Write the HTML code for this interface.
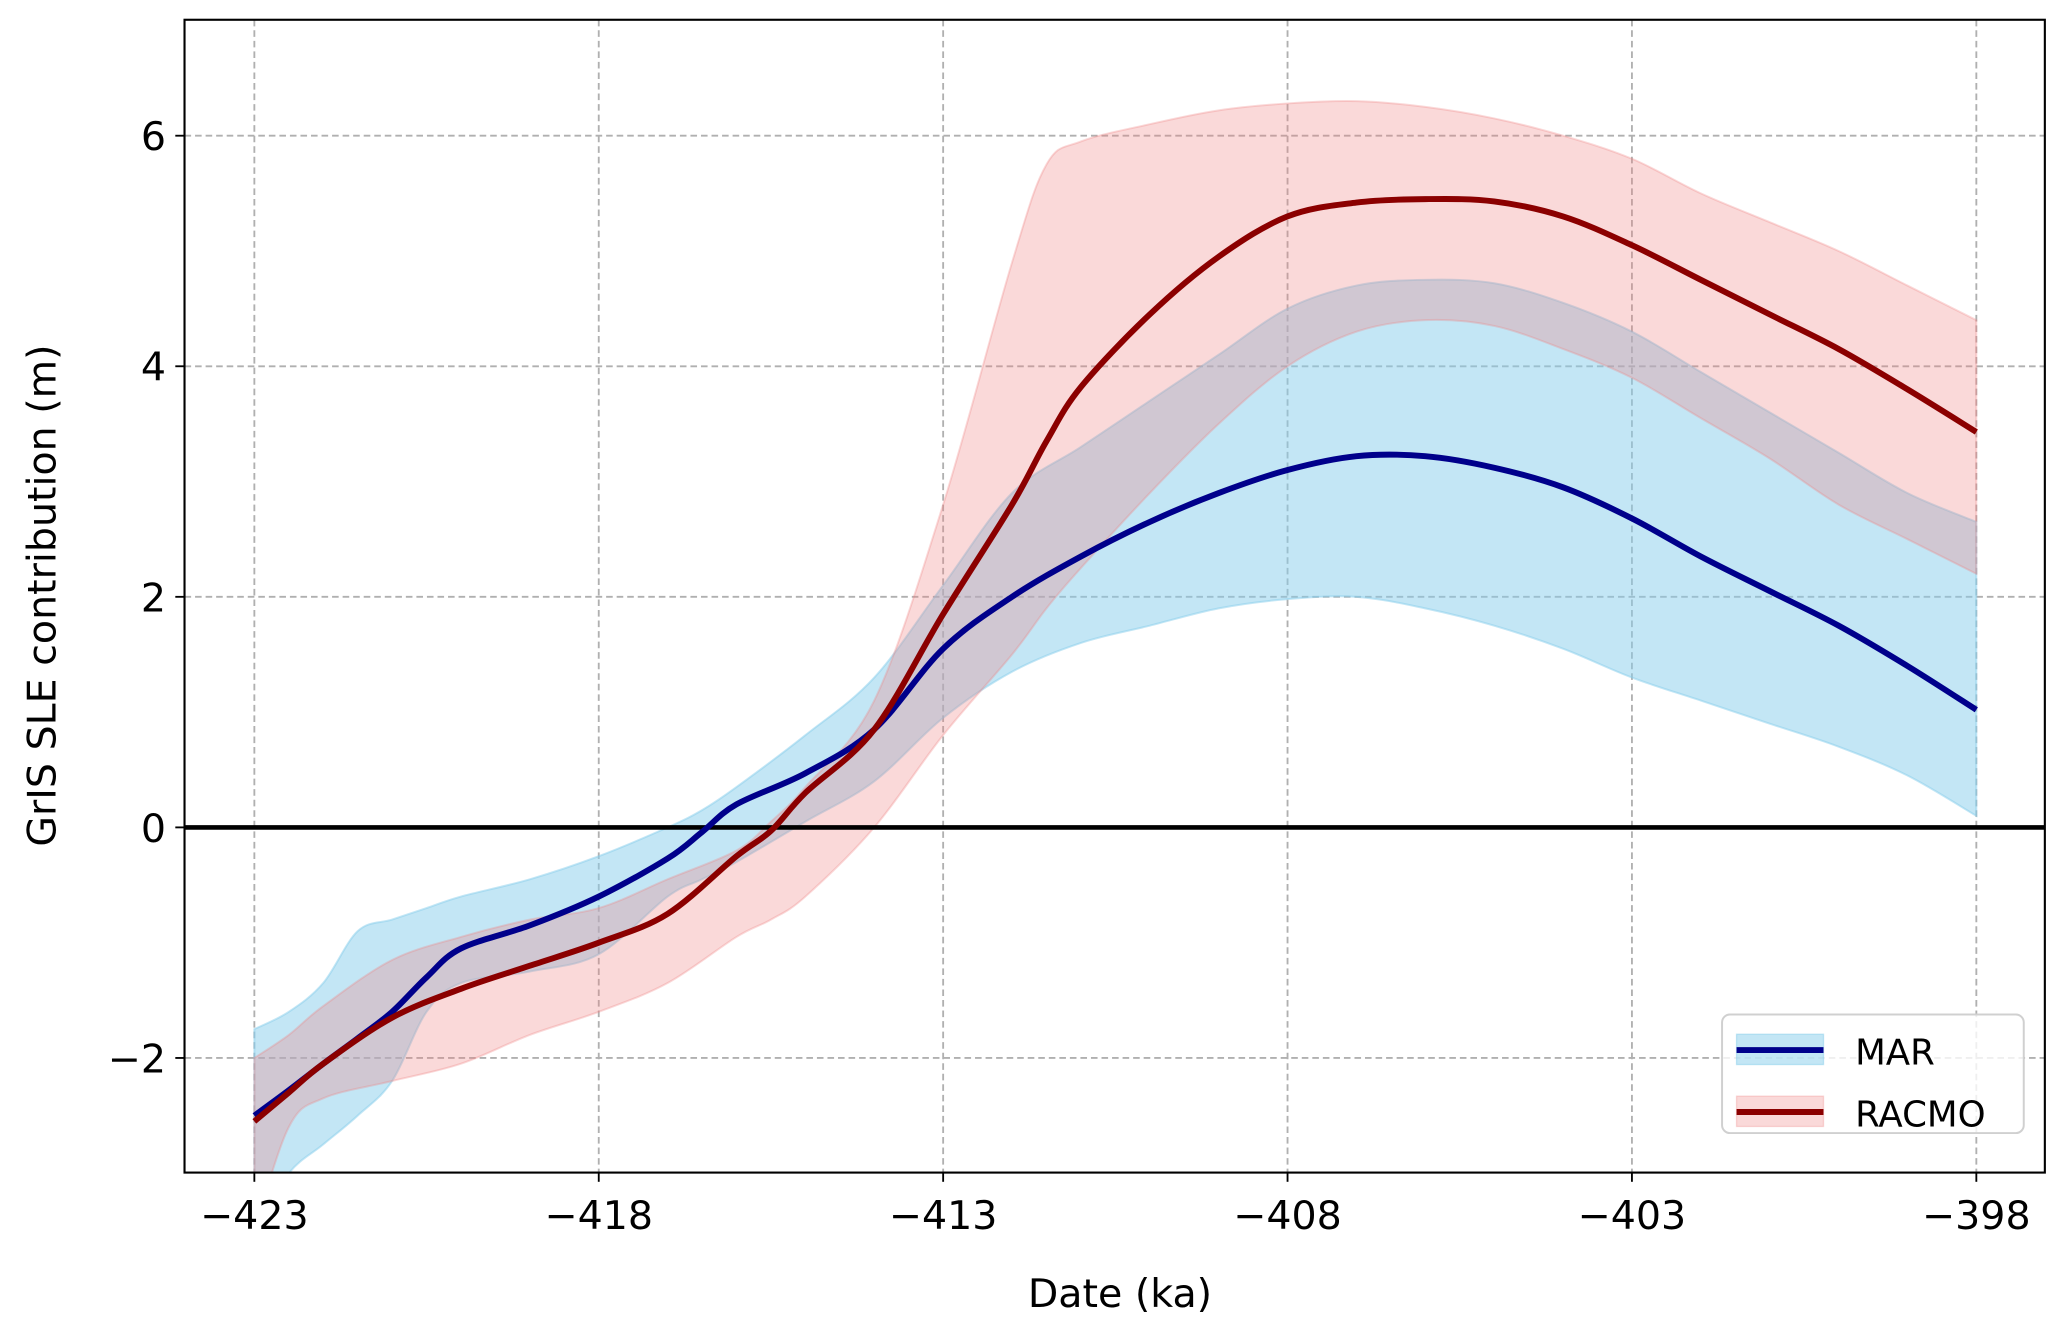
<!DOCTYPE html>
<html><head><meta charset="utf-8"><style>
html,body{margin:0;padding:0;background:#fff;}
svg{display:block;font-family:"DejaVu Sans","Liberation Sans",sans-serif;}
</style></head><body>
<svg id="chart" width="2066" height="1332" viewBox="0 0 1568 1011" xmlns="http://www.w3.org/2000/svg">
<defs><clipPath id="clip"><rect x="140" y="15" width="1412" height="875"/></clipPath></defs>
<rect x="0" y="0" width="1568" height="1011" fill="#fff"/>
<g id="grid"></g>
<g id="bands" clip-path="url(#clip)"></g>
<g id="lines" clip-path="url(#clip)"></g>
<rect x="140" y="15" width="1412" height="875" fill="none" stroke="#000" stroke-width="1.6"/>
<g id="ticks"></g>
<text x="850" y="992" font-size="30" text-anchor="middle">Date (ka)</text>
<text transform="translate(42,452) rotate(-90)" font-size="30" text-anchor="middle">GrIS SLE contribution (m)</text>
<g>
<rect x="1307" y="770" width="229" height="90" rx="6" fill="#fff" fill-opacity="0.8" stroke="#d0d0d0" stroke-width="1.5"/>
<rect x="1318" y="785" width="66" height="23" fill="#87ceeb" fill-opacity="0.5" stroke="#87ceeb" stroke-opacity="0.5"/>
<line x1="1318" y1="797" x2="1384" y2="797" stroke="#00008b" stroke-width="4.5"/>
<text x="1408" y="808" font-size="27">MAR</text>
<rect x="1318" y="832" width="66" height="23" fill="#f08080" fill-opacity="0.3" stroke="#f08080" stroke-opacity="0.3"/>
<line x1="1318" y1="844" x2="1384" y2="844" stroke="#8b0000" stroke-width="4.5"/>
<text x="1408" y="855" font-size="27">RACMO</text>
</g>
</svg>
<script>
const xTicks = [-423, -418, -413, -408, -403, -398];
const yTicks = [-2, 0, 2, 4, 6];
const marX = [-423,-422.5,-422,-421.5,-421,-420.5,-420,-419,-418,-417,-416.5,-416,-415,-414,-413,-412,-411,-410,-409,-408,-407,-406,-405,-404,-403,-402,-401,-400,-399,-398];
const marMean = [-2.5,-2.28,-2.05,-1.83,-1.6,-1.3,-1.05,-0.85,-0.6,-0.27,-0.04,0.2,0.47,0.85,1.55,2.0,2.35,2.65,2.9,3.1,3.22,3.22,3.12,2.95,2.68,2.35,2.05,1.75,1.4,1.02];
const marUpper = [-1.75,-1.6,-1.35,-0.9,-0.8,-0.7,-0.6,-0.45,-0.25,0,0.15,0.35,0.8,1.3,2.1,2.9,3.3,3.7,4.1,4.5,4.7,4.75,4.72,4.55,4.3,3.95,3.6,3.25,2.9,2.65];
const marLower = [-3.5,-3.0,-2.75,-2.5,-2.2,-1.6,-1.35,-1.25,-1.1,-0.6,-0.45,-0.3,0.05,0.4,0.95,1.35,1.6,1.75,1.9,1.98,2.0,1.9,1.75,1.55,1.3,1.1,0.9,0.7,0.45,0.1];
const racX = [-423,-422.5,-422,-421,-420,-419,-418,-417,-416,-415.5,-415,-414,-413,-412,-411.5,-411,-410,-409,-408,-407,-406,-405,-404,-403,-402,-401,-400,-399,-398];
const racMean = [-2.55,-2.3,-2.05,-1.65,-1.4,-1.2,-1.0,-0.75,-0.25,-0.03,0.3,0.85,1.85,2.8,3.35,3.82,4.45,4.95,5.3,5.42,5.45,5.43,5.3,5.05,4.75,4.45,4.15,3.8,3.43];
const racUpper = [-2.0,-1.8,-1.55,-1.15,-0.95,-0.8,-0.7,-0.45,-0.2,0.05,0.35,1.1,2.8,4.9,5.75,5.95,6.1,6.22,6.28,6.3,6.25,6.15,6.0,5.8,5.5,5.25,5.0,4.7,4.4];
const racLower = [-3.5,-2.6,-2.35,-2.2,-2.05,-1.8,-1.6,-1.35,-0.95,-0.8,-0.6,0,0.8,1.5,1.9,2.25,2.9,3.5,4.0,4.3,4.4,4.35,4.15,3.9,3.55,3.2,2.8,2.5,2.2];

const NS='http://www.w3.org/2000/svg';
const sx = v => 193 + (v + 423) * (1500 - 193) / 25;
const sy = v => 628 - v * 87.5;
function mk(tag, parent, attrs){const e=document.createElementNS(NS,tag);for(const k in attrs)e.setAttribute(k,attrs[k]);parent.appendChild(e);return e;}
function smooth(pts, start){
  let d=(start?'M':'L')+pts[0][0]+','+pts[0][1];
  for(let i=0;i<pts.length-1;i++){
    const p0=pts[Math.max(0,i-1)],p1=pts[i],p2=pts[i+1],p3=pts[Math.min(pts.length-1,i+2)];
    const c1=[p1[0]+(p2[0]-p0[0])/6,p1[1]+(p2[1]-p0[1])/6];
    const c2=[p2[0]-(p3[0]-p1[0])/6,p2[1]-(p3[1]-p1[1])/6];
    d+='C'+c1[0]+','+c1[1]+' '+c2[0]+','+c2[1]+' '+p2[0]+','+p2[1];
  }
  return d;
}
const grid=document.getElementById('grid'), ticks=document.getElementById('ticks');
const bands=document.getElementById('bands'), lines=document.getElementById('lines');
xTicks.forEach(t=>{
  const g=mk('line',grid,{x1:sx(t),x2:sx(t),y1:15,y2:890,stroke:'#b0b0b0','stroke-width':1.4,'stroke-dasharray':'5,3'});
  
  
  const tk=mk('line',ticks,{x1:sx(t),x2:sx(t),y1:890,y2:897,stroke:'#000','stroke-width':1.4});
  
  
  const tx=mk('text',ticks,{x:sx(t),y:933,'font-size':30,'text-anchor':'middle'});
  tx.textContent=String(t).replace('-','\u2212');
  
  
});
yTicks.forEach(t=>{
  const g=mk('line',grid,{x1:140,x2:1552,y1:sy(t),y2:sy(t),stroke:'#b0b0b0','stroke-width':1.4,'stroke-dasharray':'5,3'});
  
  
  const tk=mk('line',ticks,{x1:133,x2:140,y1:sy(t),y2:sy(t),stroke:'#000','stroke-width':1.4});
  
  
  const tx=mk('text',ticks,{x:126,y:sy(t)+11,'font-size':30,'text-anchor':'end'});
  tx.textContent=String(t).replace('-','\u2212');
  
  
});
function band(xs,up,lo,fill,op,name){
  const top=xs.map((x,i)=>[sx(x),sy(up[i])]);
  const bot=xs.map((x,i)=>[sx(x),sy(lo[i])]).reverse();
  const d=smooth(top,true)+smooth(bot,false)+'Z';
  const p=mk('path',bands,{d:d,fill:fill,'fill-opacity':op,stroke:fill,'stroke-opacity':op,'stroke-width':1.5});
  
  
}
function line(xs,ys,col,name){
  const p=mk('path',lines,{d:smooth(xs.map((x,i)=>[sx(x),sy(ys[i])]),true),fill:'none',stroke:col,'stroke-width':4.5,'stroke-linejoin':'round'});
  
  
}
band(marX,marUpper,marLower,'#87ceeb',0.5,'mar-band');
band(racX,racUpper,racLower,'#f08080',0.3,'racmo-band');
const z=mk('line',lines,{x1:140,x2:1552,y1:sy(0),y2:sy(0),stroke:'#000','stroke-width':3.5});


line(marX,marMean,'#00008b','mar-line');
line(racX,racMean,'#8b0000','racmo-line');
</script>
</body></html>
